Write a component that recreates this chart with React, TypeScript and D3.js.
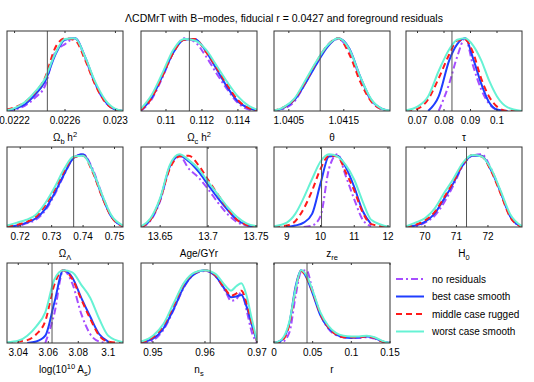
import React, { useEffect, useRef } from 'react';
import * as d3 from 'd3';

const seriesNames = ['no residuals', 'best case smooth', 'middle case rugged', 'worst case smooth'];
const seriesColors = ['#a64dff', '#1f3dff', '#ff1a1a', '#66f2d4'];
const seriesDash = ['7,3,2,3', '', '6,4', ''];

// Omega_b h^2
const obX = [0.02214, 0.0222, 0.02228, 0.02236, 0.02244, 0.02252, 0.0226, 0.02268, 0.02276, 0.02284, 0.02292, 0.023, 0.02306];
const obNone = [0.0, 0.02, 0.07, 0.18, 0.34, 0.8, 0.92, 1.0, 0.72, 0.37, 0.12, 0.02, 0.0];
const obBest = [0.0, 0.03, 0.09, 0.22, 0.4, 0.76, 0.98, 1.0, 0.74, 0.38, 0.13, 0.02, 0.0];
const obMid = [0.02, 0.05, 0.12, 0.25, 0.45, 0.86, 1.0, 0.97, 0.7, 0.36, 0.12, 0.02, 0.0];
const obWorst = [0.01, 0.04, 0.12, 0.26, 0.44, 0.78, 0.99, 1.0, 0.74, 0.4, 0.15, 0.03, 0.005];

// Omega_c h^2
const ocX = [0.1086, 0.1092, 0.1098, 0.1104, 0.111, 0.1116, 0.1122, 0.1128, 0.1134, 0.114, 0.1146, 0.11505];
const ocNone = [0.0, 0.16, 0.46, 0.8, 1.0, 0.95, 0.76, 0.52, 0.3, 0.11, 0.02, 0.0];
const ocBest = [0.01, 0.18, 0.48, 0.8, 0.98, 0.99, 0.83, 0.58, 0.33, 0.13, 0.04, 0.01];
const ocMid = [0.01, 0.18, 0.48, 0.8, 0.98, 0.99, 0.82, 0.6, 0.36, 0.15, 0.04, 0.01];
const ocWorst = [0.03, 0.22, 0.52, 0.84, 0.99, 0.97, 0.85, 0.63, 0.4, 0.2, 0.07, 0.02];

// theta
const thX = [1.0402, 1.0404, 1.0406, 1.0408, 1.041, 1.0412, 1.0414, 1.0416, 1.0418, 1.042, 1.0422, 1.04235];
const thNone = [0.0, 0.03, 0.13, 0.38, 0.66, 0.9, 0.99, 0.82, 0.45, 0.14, 0.02, 0.0];
const thBest = [0.0, 0.04, 0.15, 0.38, 0.64, 0.88, 1.0, 0.86, 0.47, 0.15, 0.03, 0.0];
const thMid = [0.0, 0.05, 0.16, 0.4, 0.67, 0.9, 1.0, 0.78, 0.4, 0.13, 0.02, 0.0];
const thWorst = [0.0, 0.05, 0.17, 0.42, 0.68, 0.9, 1.0, 0.85, 0.47, 0.16, 0.03, 0.005];

// tau
const tauX = [0.0657, 0.07, 0.074, 0.078, 0.082, 0.085, 0.088, 0.091, 0.094, 0.097, 0.1, 0.104, 0.1094];
const tauNone = [null, null, null, 0.0, 0.38, 0.75, 1.0, 0.62, 0.3, 0.1, 0.01, null, null];
const tauBest = [null, null, 0.0, 0.2, 0.7, 0.92, 1.0, 0.72, 0.38, 0.12, 0.02, 0.0, null];
const tauMid = [0.0, 0.03, 0.16, 0.45, 0.78, 0.97, 0.98, 0.8, 0.45, 0.2, 0.06, 0.0, 0.0];
const tauWorst = [0.01, 0.06, 0.2, 0.55, 0.85, 0.98, 1.0, 0.9, 0.7, 0.42, 0.2, 0.05, 0.0];

// Omega_Lambda
const olX = [0.7158, 0.719, 0.722, 0.725, 0.728, 0.731, 0.734, 0.737, 0.74, 0.743, 0.746, 0.749, 0.7527];
const olNone = [0.0, 0.01, 0.05, 0.1, 0.23, 0.45, 0.72, 0.95, 1.0, 0.8, 0.45, 0.15, 0.01];
const olBest = [0.0, 0.02, 0.06, 0.12, 0.25, 0.47, 0.73, 0.95, 1.0, 0.78, 0.43, 0.14, 0.01];
const olMid = [0.01, 0.03, 0.07, 0.14, 0.3, 0.52, 0.77, 0.96, 0.98, 0.76, 0.42, 0.14, 0.01];
const olWorst = [0.02, 0.06, 0.1, 0.17, 0.33, 0.55, 0.8, 0.97, 0.98, 0.78, 0.45, 0.16, 0.02];

// Age
const ageX = [13.63, 13.64, 13.65, 13.66, 13.67, 13.68, 13.69, 13.7, 13.71, 13.72, 13.73, 13.74, 13.751];
const ageNone = [0.0, 0.09, 0.36, 0.82, 0.98, 0.8, 0.68, 0.52, 0.34, 0.18, 0.07, 0.02, 0.0];
const ageBest = [0.0, 0.1, 0.38, 0.83, 0.98, 0.9, 0.76, 0.58, 0.4, 0.24, 0.1, 0.03, 0.0];
const ageMid = [0.0, 0.1, 0.38, 0.8, 0.97, 0.98, 0.85, 0.65, 0.45, 0.26, 0.1, 0.03, 0.0];
const ageWorst = [0.01, 0.12, 0.4, 0.85, 1.0, 0.92, 0.8, 0.62, 0.45, 0.28, 0.14, 0.05, 0.01];

// z_re
const zreX = [8.62, 9, 9.25, 9.5, 9.75, 10, 10.25, 10.5, 10.75, 11, 11.25, 11.5, 12.06];
const zreNone = [null, null, null, 0.0, 0.02, 0.15, 0.8, 1.0, 0.7, 0.38, 0.1, 0.01, null];
const zreBest = [null, 0.0, 0.02, 0.06, 0.18, 0.6, 0.97, 0.98, 0.82, 0.55, 0.22, 0.04, null];
const zreMid = [0.0, 0.02, 0.08, 0.25, 0.5, 0.8, 0.98, 0.97, 0.75, 0.5, 0.2, 0.04, 0.0];
const zreWorst = [0.01, 0.06, 0.18, 0.4, 0.66, 0.9, 1.0, 0.97, 0.85, 0.65, 0.35, 0.1, 0.0];

// H0
const h0X = [69.4, 69.7, 70, 70.3, 70.6, 70.9, 71.2, 71.5, 71.8, 72.1, 72.4, 72.7, 73.08];
const h0None = [0.0, 0.01, 0.06, 0.15, 0.33, 0.57, 0.84, 0.98, 1.0, 0.8, 0.48, 0.15, 0.0];
const h0Best = [0.0, 0.02, 0.07, 0.18, 0.38, 0.6, 0.85, 0.98, 0.98, 0.78, 0.48, 0.15, 0.0];
const h0Mid = [0.0, 0.03, 0.09, 0.2, 0.4, 0.62, 0.86, 0.99, 0.97, 0.77, 0.46, 0.14, 0.0];
const h0Worst = [0.01, 0.06, 0.12, 0.25, 0.46, 0.66, 0.88, 0.99, 0.97, 0.8, 0.5, 0.18, 0.01];

// log(10^10 A_s)
const asX = [3.0325, 3.04, 3.046, 3.052, 3.058, 3.064, 3.07, 3.076, 3.082, 3.088, 3.094, 3.1, 3.1098];
const asNone = [null, null, null, null, 0.0, 0.4, 1.0, 0.82, 0.4, 0.12, 0.02, 0.0, null];
const asBest = [null, null, 0.0, 0.02, 0.1, 0.55, 1.0, 0.9, 0.62, 0.36, 0.12, 0.02, null];
const asMid = [0.0, 0.02, 0.04, 0.12, 0.3, 0.8, 1.0, 0.88, 0.6, 0.33, 0.1, 0.02, 0.0];
const asWorst = [0.01, 0.03, 0.1, 0.23, 0.42, 0.87, 1.0, 0.97, 0.8, 0.62, 0.33, 0.1, 0.01];

// n_s
const nsX = [0.9477, 0.95, 0.952, 0.954, 0.956, 0.958, 0.96, 0.962, 0.964, 0.965, 0.966, 0.967, 0.968, 0.969, 0.97];
const nsNone = [0.0, 0.04, 0.18, 0.46, 0.77, 0.95, 0.99, 0.92, 0.7, 0.58, 0.6, 0.7, 0.45, 0.15, 0.0];
const nsBest = [0.01, 0.06, 0.2, 0.47, 0.78, 0.95, 1.0, 0.92, 0.72, 0.63, 0.64, 0.66, 0.5, 0.25, 0.02];
const nsMid = [0.01, 0.08, 0.24, 0.52, 0.82, 0.96, 1.0, 0.93, 0.73, 0.65, 0.68, 0.72, 0.55, 0.27, 0.02];
const nsWorst = [0.02, 0.1, 0.26, 0.55, 0.83, 0.97, 1.0, 0.95, 0.78, 0.72, 0.78, 0.82, 0.65, 0.33, 0.03];

// r
const rX = [0, 0.01, 0.02, 0.028, 0.035, 0.042, 0.05, 0.06, 0.07, 0.08, 0.09, 0.1, 0.11, 0.12, 0.13, 0.14, 0.15];
const rNone = [0.0, 0.01, 0.15, 0.65, 0.98, 1.0, 0.72, 0.4, 0.2, 0.11, 0.08, 0.07, 0.07, 0.08, 0.06, 0.02, 0.0];
const rBest = [0.0, 0.04, 0.28, 0.78, 1.0, 0.9, 0.68, 0.38, 0.21, 0.12, 0.08, 0.07, 0.08, 0.09, 0.07, 0.02, 0.0];
const rMid = [0.0, 0.03, 0.26, 0.74, 0.99, 0.9, 0.7, 0.4, 0.22, 0.12, 0.08, 0.08, 0.08, 0.09, 0.07, 0.02, 0.0];
const rWorst = [0.0, 0.05, 0.3, 0.75, 1.0, 0.93, 0.72, 0.42, 0.24, 0.14, 0.1, 0.09, 0.09, 0.1, 0.08, 0.03, 0.0];

// label pieces: [text, 'n' | 'sub' | 'sup']
const panels = [
  { x: obX, ys: [obNone, obBest, obMid, obWorst], domain: [0.02214, 0.02306], ticks: [0.0222, 0.0226, 0.023], fid: 0.02246,
    label: [['Ω', 'n'], ['b', 'sub'], [' h', 'n'], ['2', 'sup']] },
  { x: ocX, ys: [ocNone, ocBest, ocMid, ocWorst], domain: [0.10861, 0.11506], ticks: [0.11, 0.112, 0.114], fid: 0.1113,
    label: [['Ω', 'n'], ['c', 'sub'], [' h', 'n'], ['2', 'sup']] },
  { x: thX, ys: [thNone, thBest, thMid, thWorst], domain: [1.04023, 1.04234], ticks: [1.0405, 1.0415], fid: 1.04107,
    label: [['θ', 'n']] },
  { x: tauX, ys: [tauNone, tauBest, tauMid, tauWorst], domain: [0.06566, 0.10943], ticks: [0.07, 0.08, 0.09, 0.1], fid: 0.083,
    label: [['τ', 'n']] },
  { x: olX, ys: [olNone, olBest, olMid, olWorst], domain: [0.7158, 0.7527], ticks: [0.72, 0.73, 0.74, 0.75], fid: 0.737,
    label: [['Ω', 'n'], ['Λ', 'sub']] },
  { x: ageX, ys: [ageNone, ageBest, ageMid, ageWorst], domain: [13.63, 13.751], ticks: [13.65, 13.7, 13.75], fid: 13.699,
    label: [['Age/GYr', 'n']] },
  { x: zreX, ys: [zreNone, zreBest, zreMid, zreWorst], domain: [8.62, 12.06], ticks: [9, 10, 11, 12], fid: 10.03,
    label: [['z', 'n'], ['re', 'sub']] },
  { x: h0X, ys: [h0None, h0Best, h0Mid, h0Worst], domain: [69.4, 73.08], ticks: [70, 71, 72], fid: 71.32,
    label: [['H', 'n'], ['0', 'sub']] },
  { x: asX, ys: [asNone, asBest, asMid, asWorst], domain: [3.0325, 3.1098], ticks: [3.04, 3.06, 3.08, 3.1], fid: 3.0625,
    label: [['log(10', 'n'], ['10', 'sup'], [' A', 'n'], ['s', 'sub'], [')', 'n']] },
  { x: nsX, ys: [nsNone, nsBest, nsMid, nsWorst], domain: [0.9477, 0.97], ticks: [0.95, 0.96, 0.97], fid: 0.961,
    label: [['n', 'n'], ['s', 'sub']] },
  { x: rX, ys: [rNone, rBest, rMid, rWorst], domain: [0, 0.15], ticks: [0, 0.05, 0.1, 0.15], fid: 0.0427,
    label: [['r', 'n']] },
];

const title = 'ΛCDMrT with B−modes, fiducial r = 0.0427 and foreground residuals';

export default function App() {
  const svgRef = useRef<SVGSVGElement>(null);

  useEffect(() => {
    if (!svgRef.current) return;
    const width = 534;
    const height = 382;
    const font = '"Liberation Sans", Arial, Helvetica, sans-serif';

    const svg = d3.select(svgRef.current);
    svg.selectAll('*').remove();
    svg.attr('width', width).attr('height', height).style('background', '#fff');

    const colLeft = [7, 141, 274, 406];
    const rowTop = [31, 147, 263];
    const pw = 116;
    const ph = 80;

    svg.append('text')
      .attr('x', 284)
      .attr('y', 22)
      .attr('text-anchor', 'middle')
      .attr('font-family', font)
      .attr('font-size', 10.5)
      .attr('fill', '#000')
      .text(title);

    const y = d3.scaleLinear().domain([0, 1.1]).range([ph, 0]);

    panels.forEach((p, i) => {
      const left = colLeft[i % 4];
      const top = rowTop[Math.floor(i / 4)];
      const x = d3.scaleLinear().domain(p.domain).range([0, pw]);
      const g = svg.append('g').attr('transform', `translate(${left},${top})`);

      g.append('clipPath').attr('id', `clip${i}`)
        .append('rect').attr('width', pw).attr('height', ph);

      const lines = g.append('g').attr('clip-path', `url(#clip${i})`);

      p.ys.forEach((ys, s) => {
        const pts = p.x.map((xv, k) => [xv, ys[k]] as [number, number | null]);
        const line = d3.line<[number, number | null]>()
          .defined(d => d[1] != null)
          .x(d => x(d[0]))
          .y(d => y(d[1] as number))
          .curve(d3.curveMonotoneX);
        lines.append('path')
          .attr('d', line(pts))
          .attr('fill', 'none')
          .attr('stroke', seriesColors[s])
          .attr('stroke-width', 2)
          .attr('stroke-dasharray', seriesDash[s] || null);
      });

      // fiducial value
      lines.append('line')
        .attr('x1', x(p.fid)).attr('x2', x(p.fid))
        .attr('y1', 0).attr('y2', ph)
        .attr('stroke', '#555')
        .attr('stroke-width', 1);

      g.append('rect')
        .attr('width', pw).attr('height', ph)
        .attr('fill', 'none')
        .attr('stroke', '#333')
        .attr('stroke-width', 1);

      p.ticks.forEach(t => {
        const tx = x(t);
        g.append('line').attr('x1', tx).attr('x2', tx).attr('y1', ph).attr('y2', ph - 2)
          .attr('stroke', '#333');
        g.append('line').attr('x1', tx).attr('x2', tx).attr('y1', 0).attr('y2', 2)
          .attr('stroke', '#333');
        g.append('text')
          .attr('x', tx)
          .attr('y', ph + 13)
          .attr('text-anchor', 'middle')
          .attr('font-family', font)
          .attr('font-size', 10)
          .attr('fill', '#000')
          .text(String(t));
      });

      const lab = g.append('text')
        .attr('x', pw / 2)
        .attr('y', ph + 30)
        .attr('text-anchor', 'middle')
        .attr('font-family', font)
        .attr('font-size', 10)
        .attr('fill', '#000');
      let shift = 0;
      p.label.forEach(([txt, kind]) => {
        const target = kind === 'sub' ? 3 : kind === 'sup' ? -4 : 0;
        lab.append('tspan')
          .attr('dy', target - shift)
          .attr('font-size', kind === 'n' ? 10 : 7.5)
          .text(txt);
        shift = target;
      });
    });

    // legend
    const legendY = [279, 296.5, 314, 331.5];
    seriesNames.forEach((name, s) => {
      svg.append('line')
        .attr('x1', 396).attr('x2', 424)
        .attr('y1', legendY[s]).attr('y2', legendY[s])
        .attr('stroke', seriesColors[s])
        .attr('stroke-width', 2)
        .attr('stroke-dasharray', seriesDash[s] || null);
      svg.append('text')
        .attr('x', 432)
        .attr('y', legendY[s] + 3.5)
        .attr('font-family', font)
        .attr('font-size', 10)
        .attr('fill', '#000')
        .text(name);
    });
  }, []);

  return (
    <svg ref={svgRef} style={{ position: 'absolute', left: 0, top: 0, display: 'block' }} />
  );
}
